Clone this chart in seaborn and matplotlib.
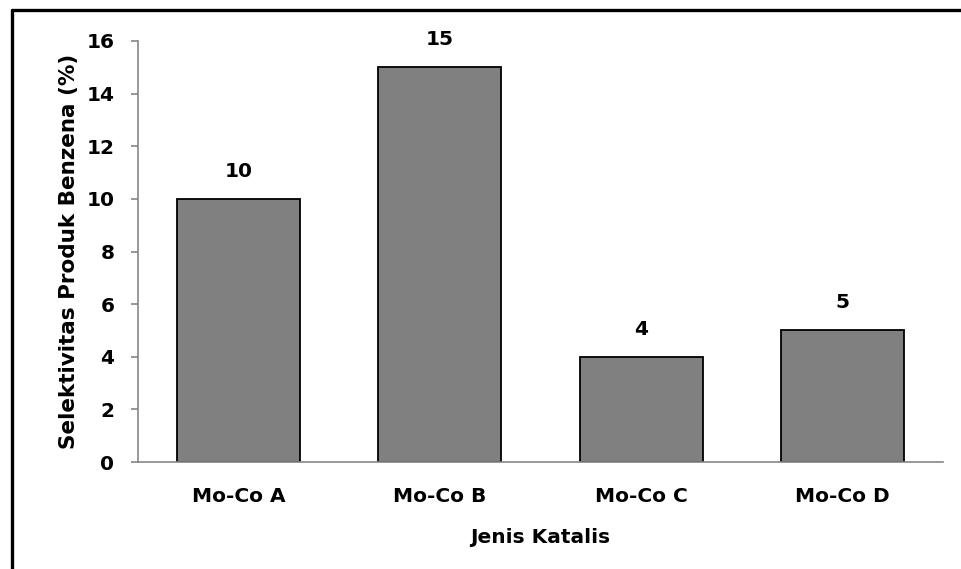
import matplotlib
matplotlib.use("Agg")
import matplotlib.pyplot as plt
import seaborn as sns
import pandas as pd
from matplotlib.lines import Line2D

categories = ["Mo-Co A", "Mo-Co B", "Mo-Co C", "Mo-Co D"]
values = [10, 15, 4, 5]
yticks = [0, 2, 4, 6, 8, 10, 12, 14, 16]

sns.set_style("white")
plt.rcParams['font.family'] = ['DejaVu Sans']
plt.rcParams['text.color'] = 'black'
plt.rcParams['axes.labelcolor'] = 'black'
plt.rcParams['xtick.labelcolor'] = 'black'
plt.rcParams['ytick.labelcolor'] = 'black'

df = pd.DataFrame({"cat": categories, "val": values})

FS = 14.5

fig = plt.figure(figsize=(9.61, 5.69), dpi=100)
ax = fig.add_axes([138/961, 1-462/569, (943-138)/961, (462-41)/569])
sns.barplot(data=df, x="cat", y="val", color="#808080", saturation=1,
            width=0.61, edgecolor="black", linewidth=1.3, ax=ax)

ax.set_xlim(-0.5, len(categories)-0.5)
ax.set_ylim(0, 16)
ax.set_yticks(yticks)
ax.set_yticklabels([str(t) for t in yticks], fontsize=FS, fontweight="bold", color="black")
ax.set_xticks(range(len(categories)))
ax.set_xticklabels(categories, fontsize=FS, fontweight="bold", color="black")
ax.set_xticks([i-0.5 for i in range(len(categories)+1)], minor=True)
ax.tick_params(axis="x", which="major", length=0, pad=18)
ax.tick_params(axis="x", which="minor", length=5, width=1.2, color="#868686", direction="out")
ax.tick_params(axis="y", length=5, width=1.2, color="#868686", direction="out", pad=12, left=True)

for s in ["top", "right"]:
    ax.spines[s].set_visible(False)
for s in ["left", "bottom"]:
    ax.spines[s].set_color("#868686")
    ax.spines[s].set_linewidth(1.2)

for i, v in enumerate(values):
    ax.annotate(str(v), (i, v), xytext=(0, 13), textcoords="offset points",
                ha="center", va="bottom", fontsize=FS, fontweight="bold", color="black")

ax.set_xlabel("Jenis Katalis", fontsize=FS, fontweight="bold", labelpad=16, color="black")
ax.set_ylabel("Selektivitas Produk Benzena (%)", fontsize=15.5, fontweight="bold", labelpad=5, color="black")

fig.add_artist(Line2D([12/961, 12/961], [0, 1-10/569], transform=fig.transFigure, color="black", lw=2.4))
fig.add_artist(Line2D([12/961, 1], [1-10/569, 1-10/569], transform=fig.transFigure, color="black", lw=2.4))

fig.savefig("out.png", dpi=100, facecolor="white")
